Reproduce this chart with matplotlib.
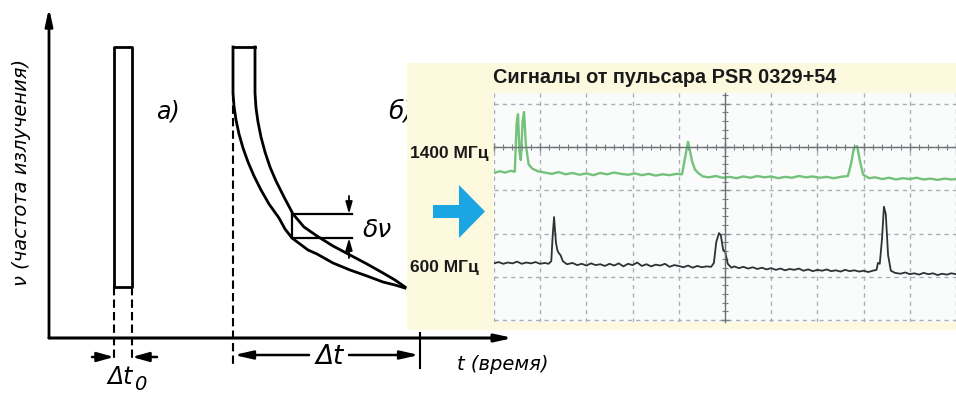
import matplotlib.pyplot as plt
from matplotlib.patches import FancyArrow
from matplotlib.ticker import MultipleLocator

# --- схема дисперсии: время t (усл. ед.), частота nu (усл. ед.) ---
pulse_a_t = [6.5, 8.3]           # границы короткого импульса
pulse_a_nu = [5.1, 29.1]         # нижняя и верхняя частота
pulse_b_t = [18.4, 20.6]         # импульс у источника (верх)
pulse_b_nu_top = 29.1

inner_t = [18.4, 18.4, 18.5, 18.7, 19.0, 19.4, 19.9, 20.5, 21.2, 22.0, 23.0, 23.6, 24.3,
           25.1, 25.9, 26.8, 28.4, 30.1, 31.8, 33.4, 34.6, 35.6]
inner_nu = [29.1, 24.5, 23.2, 21.8, 20.4, 19.0, 17.6, 16.2, 14.8, 13.4, 12.0, 10.9, 10.0,
            9.4, 8.8, 8.4, 7.5, 6.8, 6.2, 5.6, 5.3, 5.0]
outer_t = [20.6, 20.6, 20.7, 20.9, 21.2, 21.6, 22.1, 22.7, 23.5, 24.4, 25.5, 26.8, 28.4,
           30.1, 31.8, 33.4, 34.6, 35.6]
outer_nu = [29.1, 24.5, 23.0, 21.6, 20.1, 18.6, 17.1, 15.7, 14.1, 12.4, 11.1, 10.2, 9.2,
            8.3, 7.4, 6.5, 5.8, 5.1]

dnu_t = [24.3, 30.3]
dnu_levels = [12.4, 10.0]
delay_end_t = 37.1
t_axis_end = 46.4
nu_axis_end = 33.0

# --- осциллограмма (деления сетки) ---
green_t = [0.00, 0.12, 0.24, 0.36, 0.45, 0.49, 0.52, 0.55, 0.58, 0.62, 0.65, 0.69, 0.75, 0.83, 0.95,
           1.10, 1.25, 1.40, 1.55, 1.70, 1.85, 2.00, 2.15, 2.30, 2.45, 2.60, 2.75, 2.90, 3.05, 3.20,
           3.35, 3.50, 3.65, 3.80, 3.95, 4.07, 4.13, 4.20, 4.24, 4.29, 4.35, 4.42, 4.52,
           4.65, 4.80, 4.95, 5.10, 5.25, 5.40, 5.55, 5.70, 5.85, 6.00, 6.15, 6.30, 6.45, 6.60,
           6.75, 6.90, 7.05, 7.20, 7.35, 7.50, 7.66, 7.73, 7.79, 7.86, 7.92, 7.99,
           8.12, 8.25, 8.40, 8.55, 8.70, 8.85, 9.00, 9.15, 9.30, 9.45, 9.60, 9.75, 9.90, 10.00]
green_v = [3.40, 3.44, 3.41, 3.45, 3.43, 4.55, 4.76, 3.90, 3.70, 4.60, 4.81, 4.05, 3.60, 3.50, 3.44,
           3.41, 3.38, 3.42, 3.37, 3.40, 3.36, 3.39, 3.35, 3.40, 3.37, 3.41, 3.38, 3.36, 3.39, 3.35,
           3.38, 3.34, 3.37, 3.35, 3.38, 3.37, 3.72, 4.12, 3.92, 3.66, 3.48, 3.40, 3.32,
           3.30, 3.33, 3.29, 3.31, 3.28, 3.32, 3.29, 3.33, 3.30, 3.32, 3.28, 3.31, 3.29, 3.33,
           3.30, 3.32, 3.29, 3.31, 3.28, 3.31, 3.33, 3.62, 3.98, 4.02, 3.68, 3.36,
           3.28, 3.30, 3.26, 3.29, 3.25, 3.28, 3.26, 3.29, 3.25, 3.27, 3.24, 3.27, 3.25, 3.26]

black_t = [0.00, 0.10, 0.20, 0.30, 0.40, 0.50, 0.60, 0.70, 0.80, 0.90, 1.00, 1.10, 1.18, 1.24, 1.27,
           1.30, 1.34, 1.37, 1.40, 1.44, 1.49, 1.58,
           1.70, 1.80, 1.90, 2.00, 2.10, 2.20, 2.30, 2.40, 2.50, 2.60, 2.70, 2.80, 2.90, 3.00,
           3.10, 3.20, 3.30, 3.40, 3.50, 3.60, 3.70, 3.80, 3.90, 4.00, 4.10, 4.20, 4.30, 4.40,
           4.50, 4.60, 4.70, 4.76, 4.81, 4.87, 4.91, 4.96, 5.00, 5.06, 5.14,
           5.20, 5.30, 5.40, 5.50, 5.60, 5.70, 5.80, 5.90, 6.00, 6.10, 6.20, 6.30, 6.40, 6.50,
           6.60, 6.70, 6.80, 6.90, 7.00, 7.10, 7.20, 7.30, 7.40, 7.50, 7.60, 7.70, 7.80, 7.90,
           8.00, 8.10, 8.20, 8.28, 8.31, 8.35, 8.40, 8.44, 8.48, 8.53, 8.59, 8.68,
           8.80, 8.90, 9.00, 9.10, 9.20, 9.30, 9.40, 9.50, 9.60, 9.70, 9.80, 9.90, 10.00]
black_v = [1.31, 1.34, 1.30, 1.33, 1.31, 1.35, 1.30, 1.33, 1.31, 1.34, 1.30, 1.32, 1.30, 1.36, 1.95,
           2.38, 1.80, 1.62, 1.55, 1.50, 1.36, 1.29,
           1.32, 1.27, 1.30, 1.26, 1.31, 1.27, 1.29, 1.25, 1.30, 1.26, 1.31, 1.24, 1.30, 1.27,
           1.33, 1.25, 1.29, 1.24, 1.28, 1.26, 1.30, 1.23, 1.27, 1.25, 1.22, 1.26, 1.21, 1.25,
           1.22, 1.24, 1.23, 1.32, 1.80, 2.01, 1.96, 1.62, 1.60, 1.30, 1.21,
           1.24, 1.20, 1.23, 1.19, 1.22, 1.18, 1.21, 1.17, 1.20, 1.16, 1.19, 1.15, 1.18, 1.16,
           1.19, 1.14, 1.17, 1.13, 1.16, 1.14, 1.17, 1.13, 1.15, 1.12, 1.16, 1.13, 1.15, 1.12,
           1.14, 1.11, 1.14, 1.16, 1.32, 1.30, 1.90, 2.62, 2.45, 1.50, 1.14, 1.09,
           1.07, 1.10, 1.06, 1.08, 1.05, 1.09, 1.06, 1.08, 1.04, 1.07, 1.05, 1.08, 1.06]

W, H = 956, 396
fig = plt.figure(figsize=(W / 100, H / 100), dpi=100)


def fbox(x0, y0, x1, y1):
    # пиксели картинки (от верхнего левого угла) -> доли фигуры
    return [x0 / W, 1 - y1 / H, (x1 - x0) / W, (y1 - y0) / H]


def arrow(a, xy, xytext, lw=1.8, hl=0.9, hw=0.25):
    a.annotate('', xy=xy, xytext=xytext,
               arrowprops=dict(arrowstyle=f'-|>,head_length={hl},head_width={hw}',
                               color='black', lw=lw, shrinkA=0, shrinkB=0))


# ===== схема слева =====
ax = fig.add_axes([0, 0, 1, 1])
ax.set_xlim(-4.9, 90.7)
ax.set_ylim(-5.8, 33.8)
ax.axis('off')

ink = 'black'
hand = dict(family='DejaVu Sans', style='italic', color=ink)

# оси
arrow(ax, (0, nu_axis_end), (0, 0), lw=2, hl=1.0, hw=0.22)
arrow(ax, (t_axis_end, 0), (0, 0), lw=2.2, hl=1.0, hw=0.22)

# а) импульс без дисперсии
ax.plot([pulse_a_t[0], pulse_a_t[0], pulse_a_t[1], pulse_a_t[1], pulse_a_t[0]],
        [pulse_a_nu[0], pulse_a_nu[1], pulse_a_nu[1], pulse_a_nu[0], pulse_a_nu[0]],
        color=ink, lw=2)
for tx in pulse_a_t:
    ax.plot([tx, tx], [pulse_a_nu[0], -2.2], color=ink, lw=1.5, ls=(0, (4, 2)))
arrow(ax, (pulse_a_t[0], -1.9), (4.3, -1.9), lw=1.8, hl=1.0, hw=0.28)
arrow(ax, (pulse_a_t[1], -1.9), (10.8, -1.9), lw=1.8, hl=1.0, hw=0.28)
ax.text(7.15, -3.9, 'Δt', fontsize=17, ha='center', va='center', **hand)
ax.text(9.1, -4.6, '0', fontsize=14, ha='center', va='center', **hand)
ax.text(11.9, 22.6, 'а)', fontsize=17, ha='center', va='center', **hand)

# б) импульс после дисперсии
ax.plot(pulse_b_t, [pulse_b_nu_top, pulse_b_nu_top], color=ink, lw=2)
ax.plot(inner_t, inner_nu, color=ink, lw=2, solid_joinstyle='round')
ax.plot(outer_t, outer_nu, color=ink, lw=2, solid_joinstyle='round')
ax.plot([pulse_b_t[0], pulse_b_t[0]], [inner_nu[1], -2.7], color=ink, lw=1.5, ls=(0, (4, 2)))
ax.plot([delay_end_t, delay_end_t], [0.5, -3.0], color=ink, lw=1.5)

ax.plot(dnu_t, [dnu_levels[0]] * 2, color=ink, lw=1.6)
ax.plot(dnu_t, [dnu_levels[1]] * 2, color=ink, lw=1.6)
ax.plot([dnu_t[0]] * 2, dnu_levels, color=ink, lw=1.6)
arrow(ax, (30.0, dnu_levels[0]), (30.0, 14.2), lw=1.3, hl=0.7, hw=0.2)
arrow(ax, (30.0, dnu_levels[1]), (30.0, 8.0), lw=1.3, hl=0.7, hw=0.2)
ax.text(32.8, 10.8, 'δν', fontsize=18, ha='center', va='center', **hand)

arrow(ax, (pulse_b_t[0] + 0.1, -1.7), (26.0, -1.7), lw=1.8, hl=1.1, hw=0.25)
arrow(ax, (delay_end_t - 0.1, -1.7), (30.0, -1.7), lw=1.8, hl=1.1, hw=0.25)
ax.text(28.1, -1.9, 'Δt', fontsize=19, ha='center', va='center', **hand)
ax.text(33.9, 22.6, 'б)', fontsize=18, ha='left', va='center', **hand)

ax.text(45.4, -2.7, 't (время)', fontsize=14, ha='center', va='center', **hand)
ax.text(-2.7, 16.6, 'ν (частота излучения)', fontsize=14, rotation=90,
        ha='center', va='center', **hand)

# ===== панель с осциллограммой =====
panel = fig.add_axes(fbox(407, 63, 956, 330))
panel.set_zorder(2)
panel.set_facecolor('#fcf9df')
panel.set_xlim(407, 956)
panel.set_ylim(330, 63)
panel.set_xticks([])
panel.set_yticks([])
for s in panel.spines.values():
    s.set_visible(False)

bold = dict(family='Liberation Sans', weight='bold', color='#1a1a1a')
panel.text(493, 77, 'Сигналы от пульсара PSR 0329+54', fontsize=14.3, ha='left', va='center', **bold)
panel.text(410, 153, '1400 МГц', fontsize=12.5, ha='left', va='center', **bold)
panel.text(410, 267, '600 МГц', fontsize=12.5, ha='left', va='center', **bold)
panel.add_patch(FancyArrow(433, 211.5, 52, 0, width=13, head_width=53, head_length=26,
                           length_includes_head=True, color='#1ba5e2', lw=0))

osc = fig.add_axes(fbox(494, 93, 956, 322))
osc.set_zorder(3)
osc.set_facecolor('#fafbfb')
osc.set_xlim(0, 10)
osc.set_ylim(-0.046, 5.25)

grid_c = '#a9afb4'
osc.xaxis.set_major_locator(MultipleLocator(1))
osc.yaxis.set_major_locator(MultipleLocator(1))
osc.xaxis.set_minor_locator(MultipleLocator(0.2))
osc.yaxis.set_minor_locator(MultipleLocator(0.2))
osc.grid(True, which='major', color=grid_c, lw=1, ls=(0, (3, 3)))
osc.spines['left'].set_position(('data', 5))
osc.spines['bottom'].set_position(('data', 4))
osc.spines['top'].set_visible(False)
osc.spines['right'].set_visible(False)
for s in ('left', 'bottom'):
    osc.spines[s].set_color('#6d7276')
    osc.spines[s].set_linewidth(1)
osc.tick_params(which='both', direction='inout', colors='#7a7f83', labelleft=False, labelbottom=False)
osc.tick_params(which='major', length=6, width=1)
osc.tick_params(which='minor', length=4, width=0.8)

osc.plot(green_t, green_v, color='#74c27a', lw=1.7, solid_joinstyle='round')
osc.plot(black_t, black_v, color='#2e3236', lw=1.3, solid_joinstyle='round')

fig.savefig('out.png', dpi=100)
